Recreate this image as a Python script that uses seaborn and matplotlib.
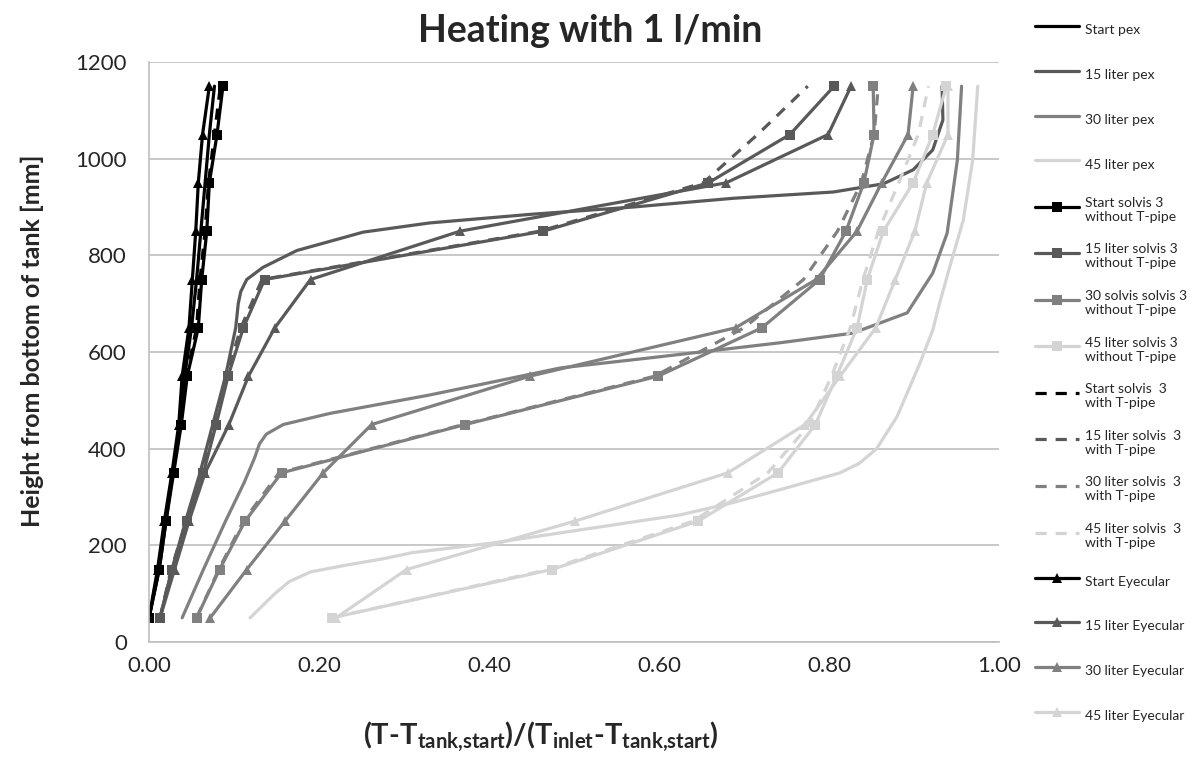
import matplotlib
matplotlib.use("Agg")
import matplotlib.pyplot as plt
import seaborn as sns
from matplotlib.ticker import MultipleLocator, FormatStrFormatter

# measurement heights of the sensors [mm]
H = [50, 150, 250, 350, 450, 550, 650, 750, 850, 950, 1050, 1150]

# pex curves (smooth, no markers) - read off at their own heights
start_pex_h = H
start_pex = [0.0, 0.012, 0.02, 0.028, 0.036, 0.042, 0.05, 0.056, 0.061, 0.066, 0.071, 0.077]
pex15_h = [50, 150, 250, 350, 450, 550, 650, 700, 725, 750, 775, 810, 848, 867, 885, 900, 918, 931,
           948, 977, 1018, 1080, 1150]
pex15 = [0.013, 0.027, 0.043, 0.06, 0.075, 0.09, 0.102, 0.105, 0.108, 0.115, 0.134, 0.174, 0.252, 0.33,
         0.45, 0.57, 0.687, 0.805, 0.864, 0.899, 0.922, 0.934, 0.933]
pex30_h = [50, 150, 250, 330, 380, 410, 430, 450, 473, 511, 540, 567, 590, 619, 639, 681, 763, 846,
           997, 1150]
pex30 = [0.039, 0.064, 0.09, 0.112, 0.124, 0.13, 0.138, 0.158, 0.213, 0.33, 0.41, 0.484, 0.6, 0.742,
         0.828, 0.892, 0.922, 0.939, 0.951, 0.956]
pex45_h = [50, 100, 125, 145, 160, 172, 185, 205, 263, 287, 315, 350, 370, 400, 466, 577, 645, 700,
           776, 873, 997, 1150]
pex45 = [0.119, 0.148, 0.165, 0.19, 0.235, 0.275, 0.31, 0.405, 0.625, 0.684, 0.742, 0.813, 0.836,
         0.856, 0.88, 0.907, 0.922, 0.93, 0.942, 0.958, 0.969, 0.975]

# solvis 3 without T-pipe (squares)
start_solvis = [0.0, 0.012, 0.02, 0.029, 0.038, 0.045, 0.058, 0.062, 0.068, 0.071, 0.08, 0.087]
solvis15 = [0.013, 0.027, 0.045, 0.064, 0.079, 0.093, 0.111, 0.136, 0.464, 0.658, 0.754, 0.806]
solvis30 = [0.056, 0.083, 0.113, 0.156, 0.372, 0.599, 0.721, 0.789, 0.82, 0.841, 0.853, 0.852]
solvis45 = [0.215, 0.474, 0.646, 0.74, 0.784, 0.809, 0.833, 0.845, 0.864, 0.899, 0.922, 0.938]

# solvis 3 with T-pipe (dashed)
start_solvis_t = [0.0, 0.011, 0.019, 0.028, 0.037, 0.044, 0.056, 0.06, 0.066, 0.07, 0.077, 0.084]
solvis15_t = [0.013, 0.026, 0.044, 0.062, 0.077, 0.091, 0.108, 0.133, 0.46, 0.652, 0.716, 0.775]
solvis30_t = [0.056, 0.082, 0.111, 0.153, 0.37, 0.595, 0.7, 0.77, 0.81, 0.838, 0.853, 0.858]
solvis45_t = [0.215, 0.47, 0.64, 0.728, 0.777, 0.803, 0.825, 0.84, 0.858, 0.882, 0.905, 0.917]

# Eyecular (triangles)
start_eye = [0.0, 0.01, 0.018, 0.027, 0.035, 0.039, 0.047, 0.051, 0.055, 0.058, 0.063, 0.071]
eye15 = [0.013, 0.03, 0.047, 0.066, 0.094, 0.117, 0.148, 0.19, 0.366, 0.679, 0.799, 0.826]
eye30 = [0.072, 0.115, 0.16, 0.205, 0.262, 0.448, 0.69, 0.785, 0.833, 0.862, 0.893, 0.899]
eye45 = [0.22, 0.303, 0.501, 0.681, 0.772, 0.813, 0.855, 0.878, 0.901, 0.915, 0.94, 0.94]

BLACK, DARK, MID, LIGHT = "#000000", "#595959", "#808080", "#d4d4d4"
DASH = (0, (3.5, 2.8))

series = [
    ("Start pex", start_pex, start_pex_h, BLACK, "-", None),
    ("15 liter pex", pex15, pex15_h, DARK, "-", None),
    ("30 liter pex", pex30, pex30_h, MID, "-", None),
    ("45 liter pex", pex45, pex45_h, LIGHT, "-", None),
    ("Start solvis 3\nwithout T-pipe", start_solvis, H, BLACK, "-", "s"),
    ("15 liter solvis 3\nwithout T-pipe", solvis15, H, DARK, "-", "s"),
    ("30 solvis solvis 3\nwithout T-pipe", solvis30, H, MID, "-", "s"),
    ("45 liter solvis 3\nwithout T-pipe", solvis45, H, LIGHT, "-", "s"),
    ("Start solvis  3\nwith T-pipe", start_solvis_t, H, BLACK, DASH, None),
    ("15 liter solvis  3\nwith T-pipe", solvis15_t, H, DARK, DASH, None),
    ("30 liter solvis  3\nwith T-pipe", solvis30_t, H, MID, DASH, None),
    ("45 liter solvis  3\nwith T-pipe", solvis45_t, H, LIGHT, DASH, None),
    ("Start Eyecular", start_eye, H, BLACK, "-", "^"),
    ("15 liter Eyecular", eye15, H, DARK, "-", "^"),
    ("30 liter Eyecular", eye30, H, MID, "-", "^"),
    ("45 liter Eyecular", eye45, H, LIGHT, "-", "^"),
]

sns.set_theme(style="white")
plt.rcParams['font.family'] = ['Lato', 'DejaVu Sans']
plt.rcParams['mathtext.fontset'] = 'custom'
plt.rcParams['mathtext.rm'] = 'Lato'
plt.rcParams['mathtext.bf'] = 'Lato:bold'
plt.rcParams['mathtext.it'] = 'Lato:italic'

fig = plt.figure(figsize=(11.92, 7.65), dpi=100)
ax = fig.add_axes([149 / 1192, 1 - 642 / 765, 850 / 1192, 580 / 765])

for label, xs, hs, col, ls, mk in series:
    sns.lineplot(x=xs, y=hs, ax=ax, sort=False, estimator=None, color=col, linewidth=2.3,
                 linestyle=ls, marker=mk, markersize=7, markeredgewidth=0, label=label)

ax.set_xlim(0, 1)
ax.set_ylim(0, 1200)
ax.xaxis.set_major_locator(MultipleLocator(0.2))
ax.xaxis.set_major_formatter(FormatStrFormatter('%.2f'))
ax.yaxis.set_major_locator(MultipleLocator(200))
ax.grid(axis='y', color='#bfbfbf', linewidth=1.2)
ax.grid(axis='x', visible=False)
for side in ['top', 'right']:
    ax.spines[side].set_visible(False)
for side in ['left', 'bottom']:
    ax.spines[side].set_color('#bfbfbf')
    ax.spines[side].set_linewidth(1.2)
ax.tick_params(axis='both', length=7, width=1.2, color='#bfbfbf', labelsize=16,
               labelcolor='#262626', direction='out')
ax.tick_params(axis='y', pad=9)
ax.tick_params(axis='x', pad=3)

ax.set_xlabel(r'(T-T$_\mathbf{tank{,}start}$)/(T$_\mathbf{inlet}$-T$_\mathbf{tank{,}start}$)',
              fontsize=21, fontweight='bold')
ax.xaxis.set_label_coords(0.461, -0.135)
ax.set_ylabel('Height from bottom of tank [mm]', fontsize=18, fontweight='bold')
ax.yaxis.set_label_coords(-0.124, 0.52)
fig.suptitle('Heating with 1 l/min', x=0.495, y=0.982, fontsize=27, fontweight='bold')

handles, labels = ax.get_legend_handles_labels()
if ax.get_legend() is not None:
    ax.get_legend().remove()
fig.legend(handles, labels, loc='upper left', bbox_to_anchor=(1035 / 1192, 1 - 18 / 765),
           frameon=False, fontsize=10, handlelength=3.2, handleheight=2.3, labelspacing=1.48,
           handletextpad=0.4, borderaxespad=0, borderpad=0)

fig.savefig('out.png', dpi=100)
